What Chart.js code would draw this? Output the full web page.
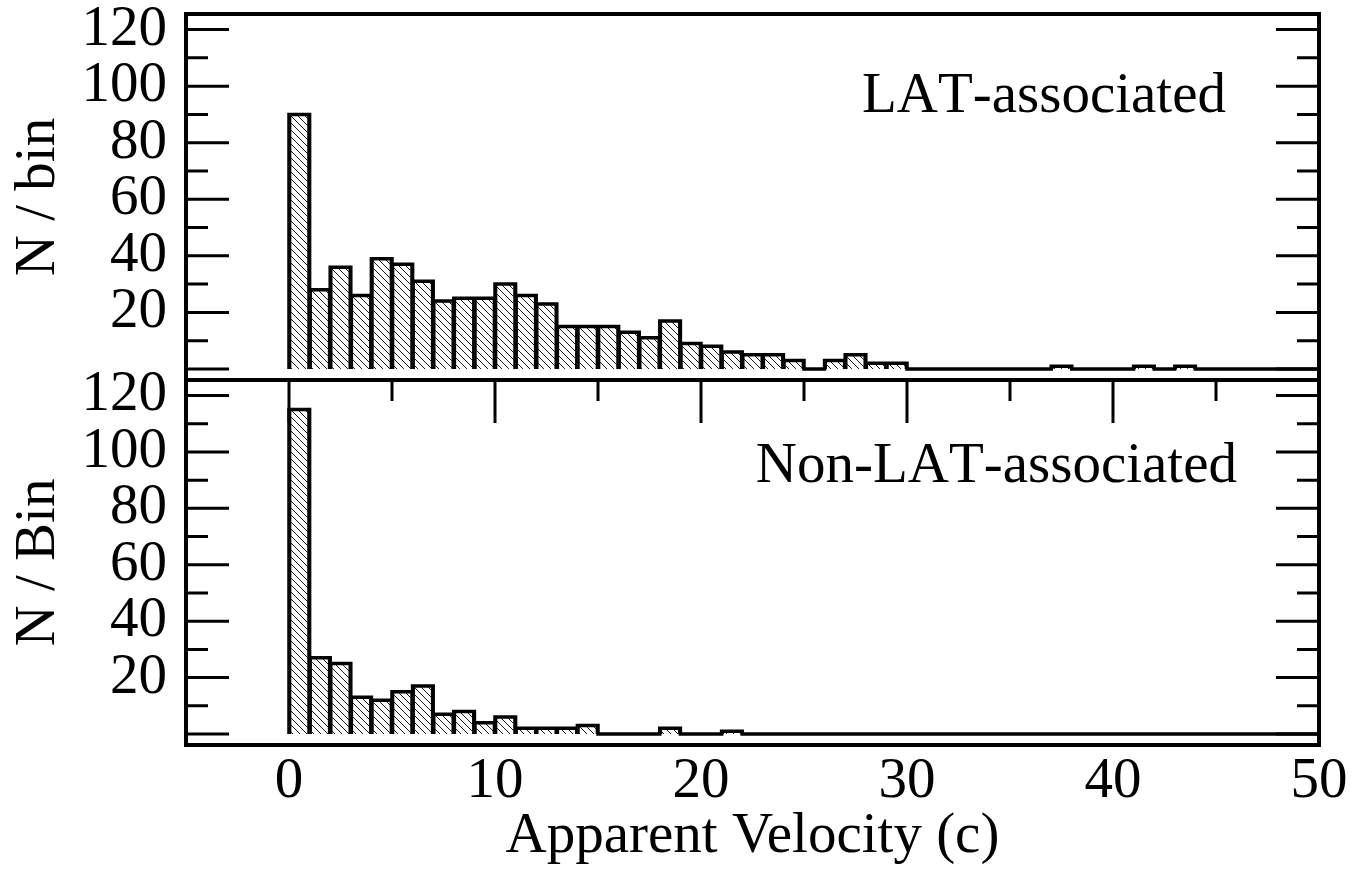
<!DOCTYPE html>
<html>
<head>
<meta charset="utf-8">
<title>Apparent velocity distributions</title>
<script src="https://cdn.jsdelivr.net/npm/chart.js@4/dist/chart.umd.min.js"></script>
<style>
  html, body { margin: 0; padding: 0; background: #fff; }
  #wrap { position: relative; width: 1354px; height: 886px; }
  #wrap canvas { position: absolute; left: 0; top: 0; }
</style>
</head>
<body>
<div id="wrap">
  <canvas id="lower" width="1354" height="886"></canvas>
  <canvas id="upper" width="1354" height="400"></canvas>
</div>
<script>
// Bin edges of the apparent-velocity histograms (units of c)
const velocityEdges = [0, 1, 2, 3, 4, 5, 6, 7, 8, 9, 10, 11, 12, 13, 14, 15, 16, 17, 18, 19, 20,
  21, 22, 23, 24, 25, 26, 27, 28, 29, 30, 31, 32, 33, 34, 35, 36, 37, 38, 39, 40,
  41, 42, 43, 44, 45, 46, 47, 48, 49, 50];

// Sources per bin
const latCounts = [90, 28, 36, 26, 39, 37, 31, 24, 25, 25, 30, 26, 23, 15, 15, 15, 13, 11, 17, 9,
  8, 6, 5, 5, 3, 0, 3, 5, 2, 2, 0, 0, 0, 0, 0, 0, 0, 1, 0, 0,
  0, 1, 0, 1, 0, 0, 0, 0, 0, 0];
const nonLatCounts = [115, 27, 25, 13, 12, 15, 17, 7, 8, 4, 6, 2, 2, 2, 3, 0, 0, 0, 2, 0,
  0, 1, 0, 0, 0, 0, 0, 0, 0, 0, 0, 0, 0, 0, 0, 0, 0, 0, 0, 0,
  0, 0, 0, 0, 0, 0, 0, 0, 0, 0];

// Axis labels and ticks
const yTickLabels = [20, 40, 60, 80, 100, 120];
const yMajorTicks = [0, 20, 40, 60, 80, 100, 120];
const yMinorTicks = [10, 30, 50, 70, 90, 110];
const xTickLabels = [0, 10, 20, 30, 40, 50];
const xMinorTicks = [5, 15, 25, 35, 45];
const panelLabels = ['LAT-associated', 'Non-LAT-associated'];
const yTitles = ['N / bin', 'N / Bin'];
const xTitle = 'Apparent Velocity (c)';

const SERIF = "'Liberation Serif', 'Times New Roman', serif";
const FONT_SIZE = 57;
Chart.defaults.font.family = SERIF;
Chart.defaults.color = '#000';

// Diagonal "\\" hatch used to fill the bars
function makeHatch() {
  const s = 7;
  const c = document.createElement('canvas');
  c.width = s; c.height = s;
  const g = c.getContext('2d');
  g.strokeStyle = '#1c1c1c';
  g.lineWidth = 1;
  g.beginPath();
  for (const k of [-s, 0, s]) { g.moveTo(k, 0); g.lineTo(k + s, s); }
  g.stroke();
  return g.createPattern(c, 'repeat');
}
const hatch = makeHatch();

// Frame, inward tick marks and the panel caption
function panelDecor(label, labelDx, labelDy, topTicks) {
  return {
    id: 'panelDecor',
    afterDraw(chart) {
      const { ctx, chartArea: a, scales: { x, y } } = chart;
      ctx.save();
      ctx.strokeStyle = '#000';
      ctx.lineCap = 'butt';
      ctx.lineWidth = 3;
      ctx.beginPath();
      const yTick = (v, len) => {
        const py = y.getPixelForValue(v);
        ctx.moveTo(a.left, py); ctx.lineTo(a.left + len, py);
        ctx.moveTo(a.right - len, py); ctx.lineTo(a.right, py);
      };
      yMajorTicks.forEach(v => yTick(v, 43));
      yMinorTicks.forEach(v => yTick(v, 22));
      if (topTicks) {
        const xTick = (v, len) => {
          const px = x.getPixelForValue(v);
          ctx.moveTo(px, a.top); ctx.lineTo(px, a.top + len);
        };
        xTickLabels.forEach(v => xTick(v, 43));
        xMinorTicks.forEach(v => xTick(v, 21));
      }
      ctx.stroke();
      ctx.lineWidth = 4;
      ctx.strokeRect(a.left, a.top, a.right - a.left, a.bottom - a.top);

      ctx.fillStyle = '#000';
      ctx.font = FONT_SIZE + 'px ' + SERIF;
      if ('fontKerning' in ctx) ctx.fontKerning = 'none';
      ctx.textAlign = 'right';
      ctx.textBaseline = 'alphabetic';
      ctx.fillText(label, a.right - labelDx, a.top + labelDy);
      ctx.restore();
    }
  };
}

function buildPanel(canvasId, counts, cfg) {
  const n = counts.length;
  const bars = counts.map((c, i) => ({ x: (velocityEdges[i] + velocityEdges[i + 1]) / 2, y: c }));
  const outline = [{ x: velocityEdges[0], y: 0 }]
    .concat(counts.map((c, i) => ({ x: velocityEdges[i], y: c })))
    .concat([{ x: velocityEdges[n], y: counts[n - 1] }]);

  return new Chart(document.getElementById(canvasId), {
    type: 'bar',
    data: {
      datasets: [
        {
          type: 'line',
          data: outline,
          stepped: 'before',
          borderColor: '#000',
          borderWidth: 3.5,
          pointRadius: 0,
          fill: false,
          order: 0
        },
        {
          type: 'bar',
          data: bars,
          backgroundColor: hatch,
          borderColor: '#000',
          borderWidth: { top: 0, left: 2, right: 2, bottom: 0 },
          borderSkipped: false,
          barPercentage: 1,
          categoryPercentage: 1,
          order: 1
        }
      ]
    },
    options: {
      responsive: false,
      animation: false,
      devicePixelRatio: 1,
      events: [],
      layout: { padding: cfg.padding },
      plugins: { legend: { display: false }, tooltip: { enabled: false } },
      scales: {
        x: {
          type: 'linear',
          min: -5,
          max: 50,
          offset: false,
          display: cfg.showX,
          grid: { display: false, drawTicks: false },
          border: { display: false },
          afterBuildTicks: s => { s.ticks = xTickLabels.map(v => ({ value: v })); },
          ticks: { font: { size: FONT_SIZE }, color: '#000', padding: 3, maxRotation: 0, autoSkip: false },
          title: { display: cfg.showX, text: xTitle, font: { size: FONT_SIZE }, color: '#000', padding: { top: 0, bottom: 15 } },
          afterFit: s => { if (cfg.showX) s.height = 141; s.paddingLeft = 0; s.paddingRight = 0; }
        },
        y: {
          type: 'linear',
          min: -3.9,
          max: 125.5,
          grid: { display: false, drawTicks: false },
          border: { display: false },
          afterBuildTicks: s => { s.ticks = yTickLabels.map(v => ({ value: v })); },
          ticks: { font: { size: FONT_SIZE }, color: '#000', padding: 19, autoSkip: false },
          title: { display: true, text: cfg.yTitle, font: { size: FONT_SIZE }, color: '#000', padding: { top: 5, bottom: 0 } },
          afterFit: s => { s.width = 186; s.paddingTop = 0; s.paddingBottom = 0; }
        }
      }
    },
    plugins: [panelDecor(cfg.label, cfg.labelDx, cfg.labelDy, cfg.topTicks)]
  });
}

buildPanel('upper', latCounts, {
  padding: { top: 14, left: 0, right: 35, bottom: 20 },
  showX: false, yTitle: yTitles[0], label: panelLabels[0],
  labelDx: 93, labelDy: 98, topTicks: false
});
buildPanel('lower', nonLatCounts, {
  padding: { top: 380, left: 0, right: 35, bottom: 0 },
  showX: true, yTitle: yTitles[1], label: panelLabels[1],
  labelDx: 82, labelDy: 102, topTicks: true
});
</script>
</body>
</html>
